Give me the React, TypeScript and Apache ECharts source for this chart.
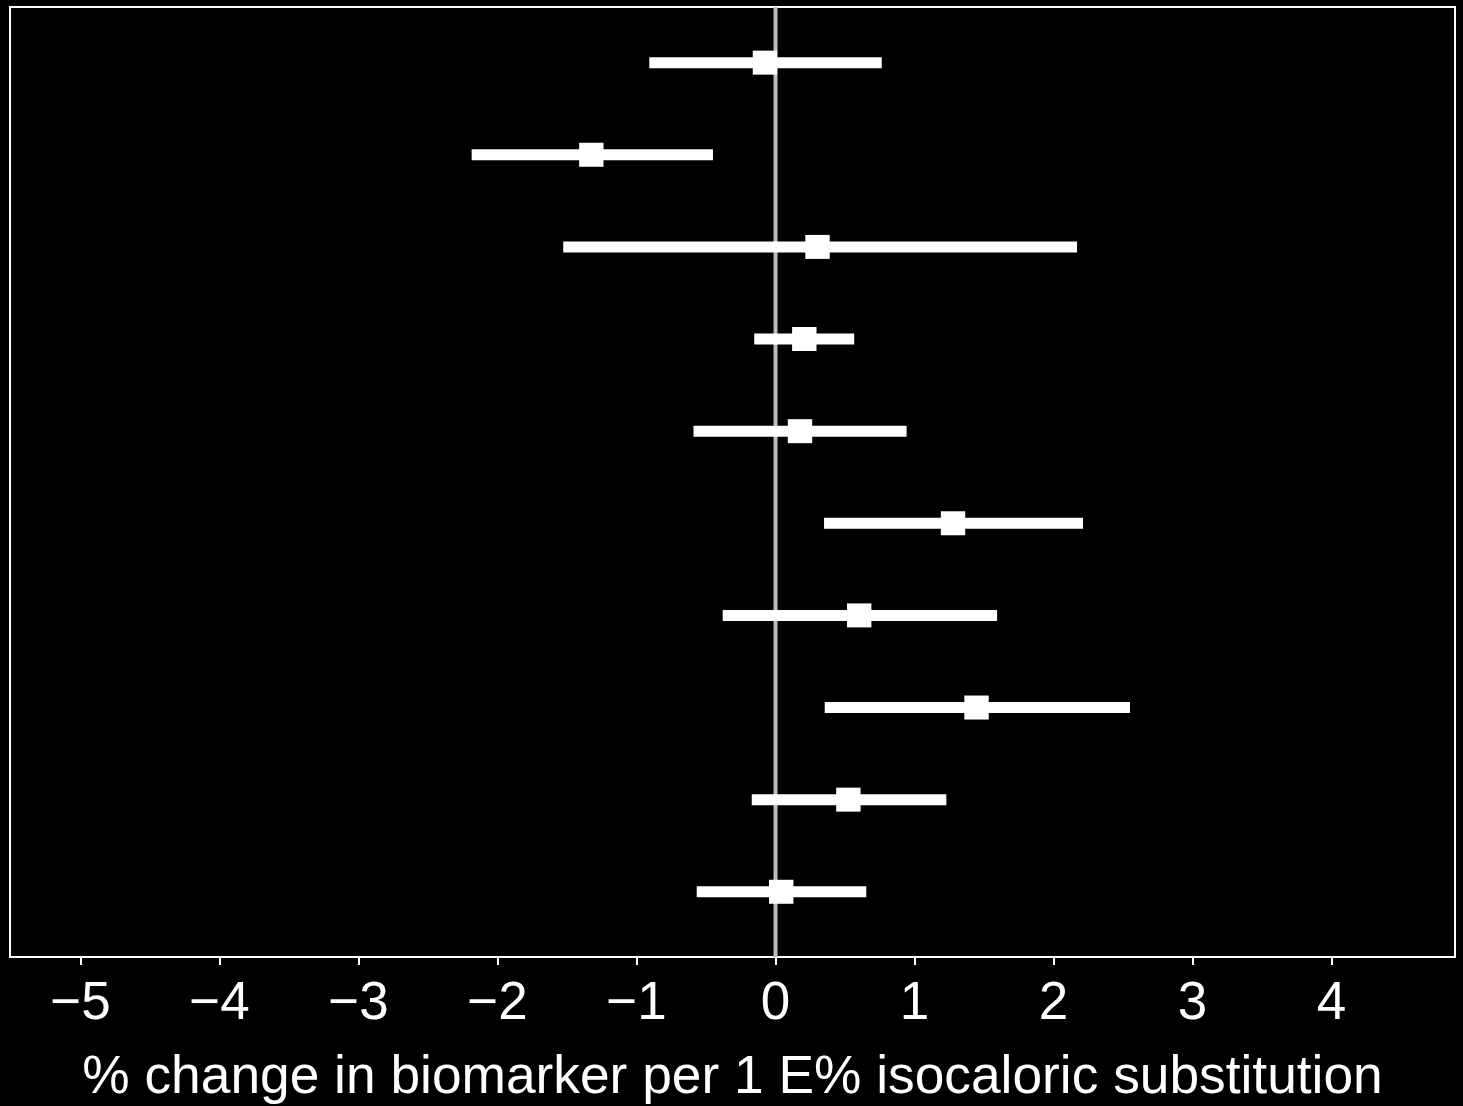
import React, { useEffect, useRef } from "react";
import * as echarts from "echarts";

const rows = [0, 1, 2, 3, 4, 5, 6, 7, 8, 9];
const estimate = [-0.076, -1.325, 0.302, 0.207, 0.176, 1.277, 0.602, 1.446, 0.524, 0.041];
const lower = [-0.908, -2.186, -1.527, -0.153, -0.59, 0.349, -0.38, 0.354, -0.171, -0.567];
const upper = [0.764, -0.45, 2.169, 0.566, 0.943, 2.212, 1.594, 2.55, 1.229, 0.653];
const xTicks = [-5, -4, -3, -2, -1, 0, 1, 2, 3, 4];
const xTitle = "% change in biomarker per 1 E% isocaloric substitution";

export default function App() {
  const ref = useRef<HTMLDivElement>(null);
  useEffect(() => {
    if (!ref.current) return;
    const chart = echarts.init(ref.current, null, { renderer: "svg" });
    const font = "'Liberation Sans', Arial, Helvetica, sans-serif";
    const data = rows.map((r, i) => [r, lower[i], upper[i], estimate[i]]);
    chart.setOption({
      animation: false,
      backgroundColor: "#000000",
      grid: {
        left: 10,
        right: 8,
        top: 7,
        bottom: 148,
        show: true,
        borderColor: "#ffffff",
        borderWidth: 2,
        backgroundColor: "transparent",
      },
      xAxis: {
        type: "value",
        min: -5.507,
        max: 4.888,
        axisLine: { show: false, onZero: false },
        splitLine: { show: false },
        axisTick: {
          show: true,
          customValues: xTicks,
          length: 8,
          lineStyle: { color: "#ffffff", width: 2 },
        },
        axisLabel: {
          customValues: xTicks,
          color: "#ffffff",
          fontSize: 53,
          fontFamily: font,
          margin: 17,
          formatter: (v: number) => String(v).replace("-", "\u2212"),
        },
        name: xTitle,
        nameLocation: "middle",
        nameGap: 91,
        nameTextStyle: { color: "#ffffff", fontSize: 53.3, fontFamily: font },
      },
      yAxis: {
        type: "value",
        show: false,
        inverse: true,
        min: -0.604,
        max: 9.708,
      },
      series: [
        {
          type: "line",
          data: [
            [0, -0.604],
            [0, 9.708],
          ],
          symbol: "none",
          lineStyle: { color: "#bdbdbd", width: 4 },
          z: 1,
          silent: true,
        },
        {
          type: "custom",
          data,
          encode: { x: [1, 2, 3], y: 0 },
          z: 3,
          renderItem: (params: any, api: any) => {
            const y = api.value(0);
            const lo = api.coord([api.value(1), y]);
            const hi = api.coord([api.value(2), y]);
            const pt = api.coord([api.value(3), y]);
            return {
              type: "group",
              children: [
                {
                  type: "rect",
                  shape: { x: lo[0], y: lo[1] - 5.5, width: hi[0] - lo[0], height: 11 },
                  style: { fill: "#ffffff" },
                },
                {
                  type: "rect",
                  shape: { x: pt[0] - 12.2, y: pt[1] - 12, width: 24.4, height: 24 },
                  style: { fill: "#ffffff" },
                },
              ],
            };
          },
        },
      ],
    });
    return () => chart.dispose();
  }, []);
  return (
    <div
      ref={ref}
      style={{ position: "fixed", left: 0, top: 0, width: 1463, height: 1106 }}
    />
  );
}
